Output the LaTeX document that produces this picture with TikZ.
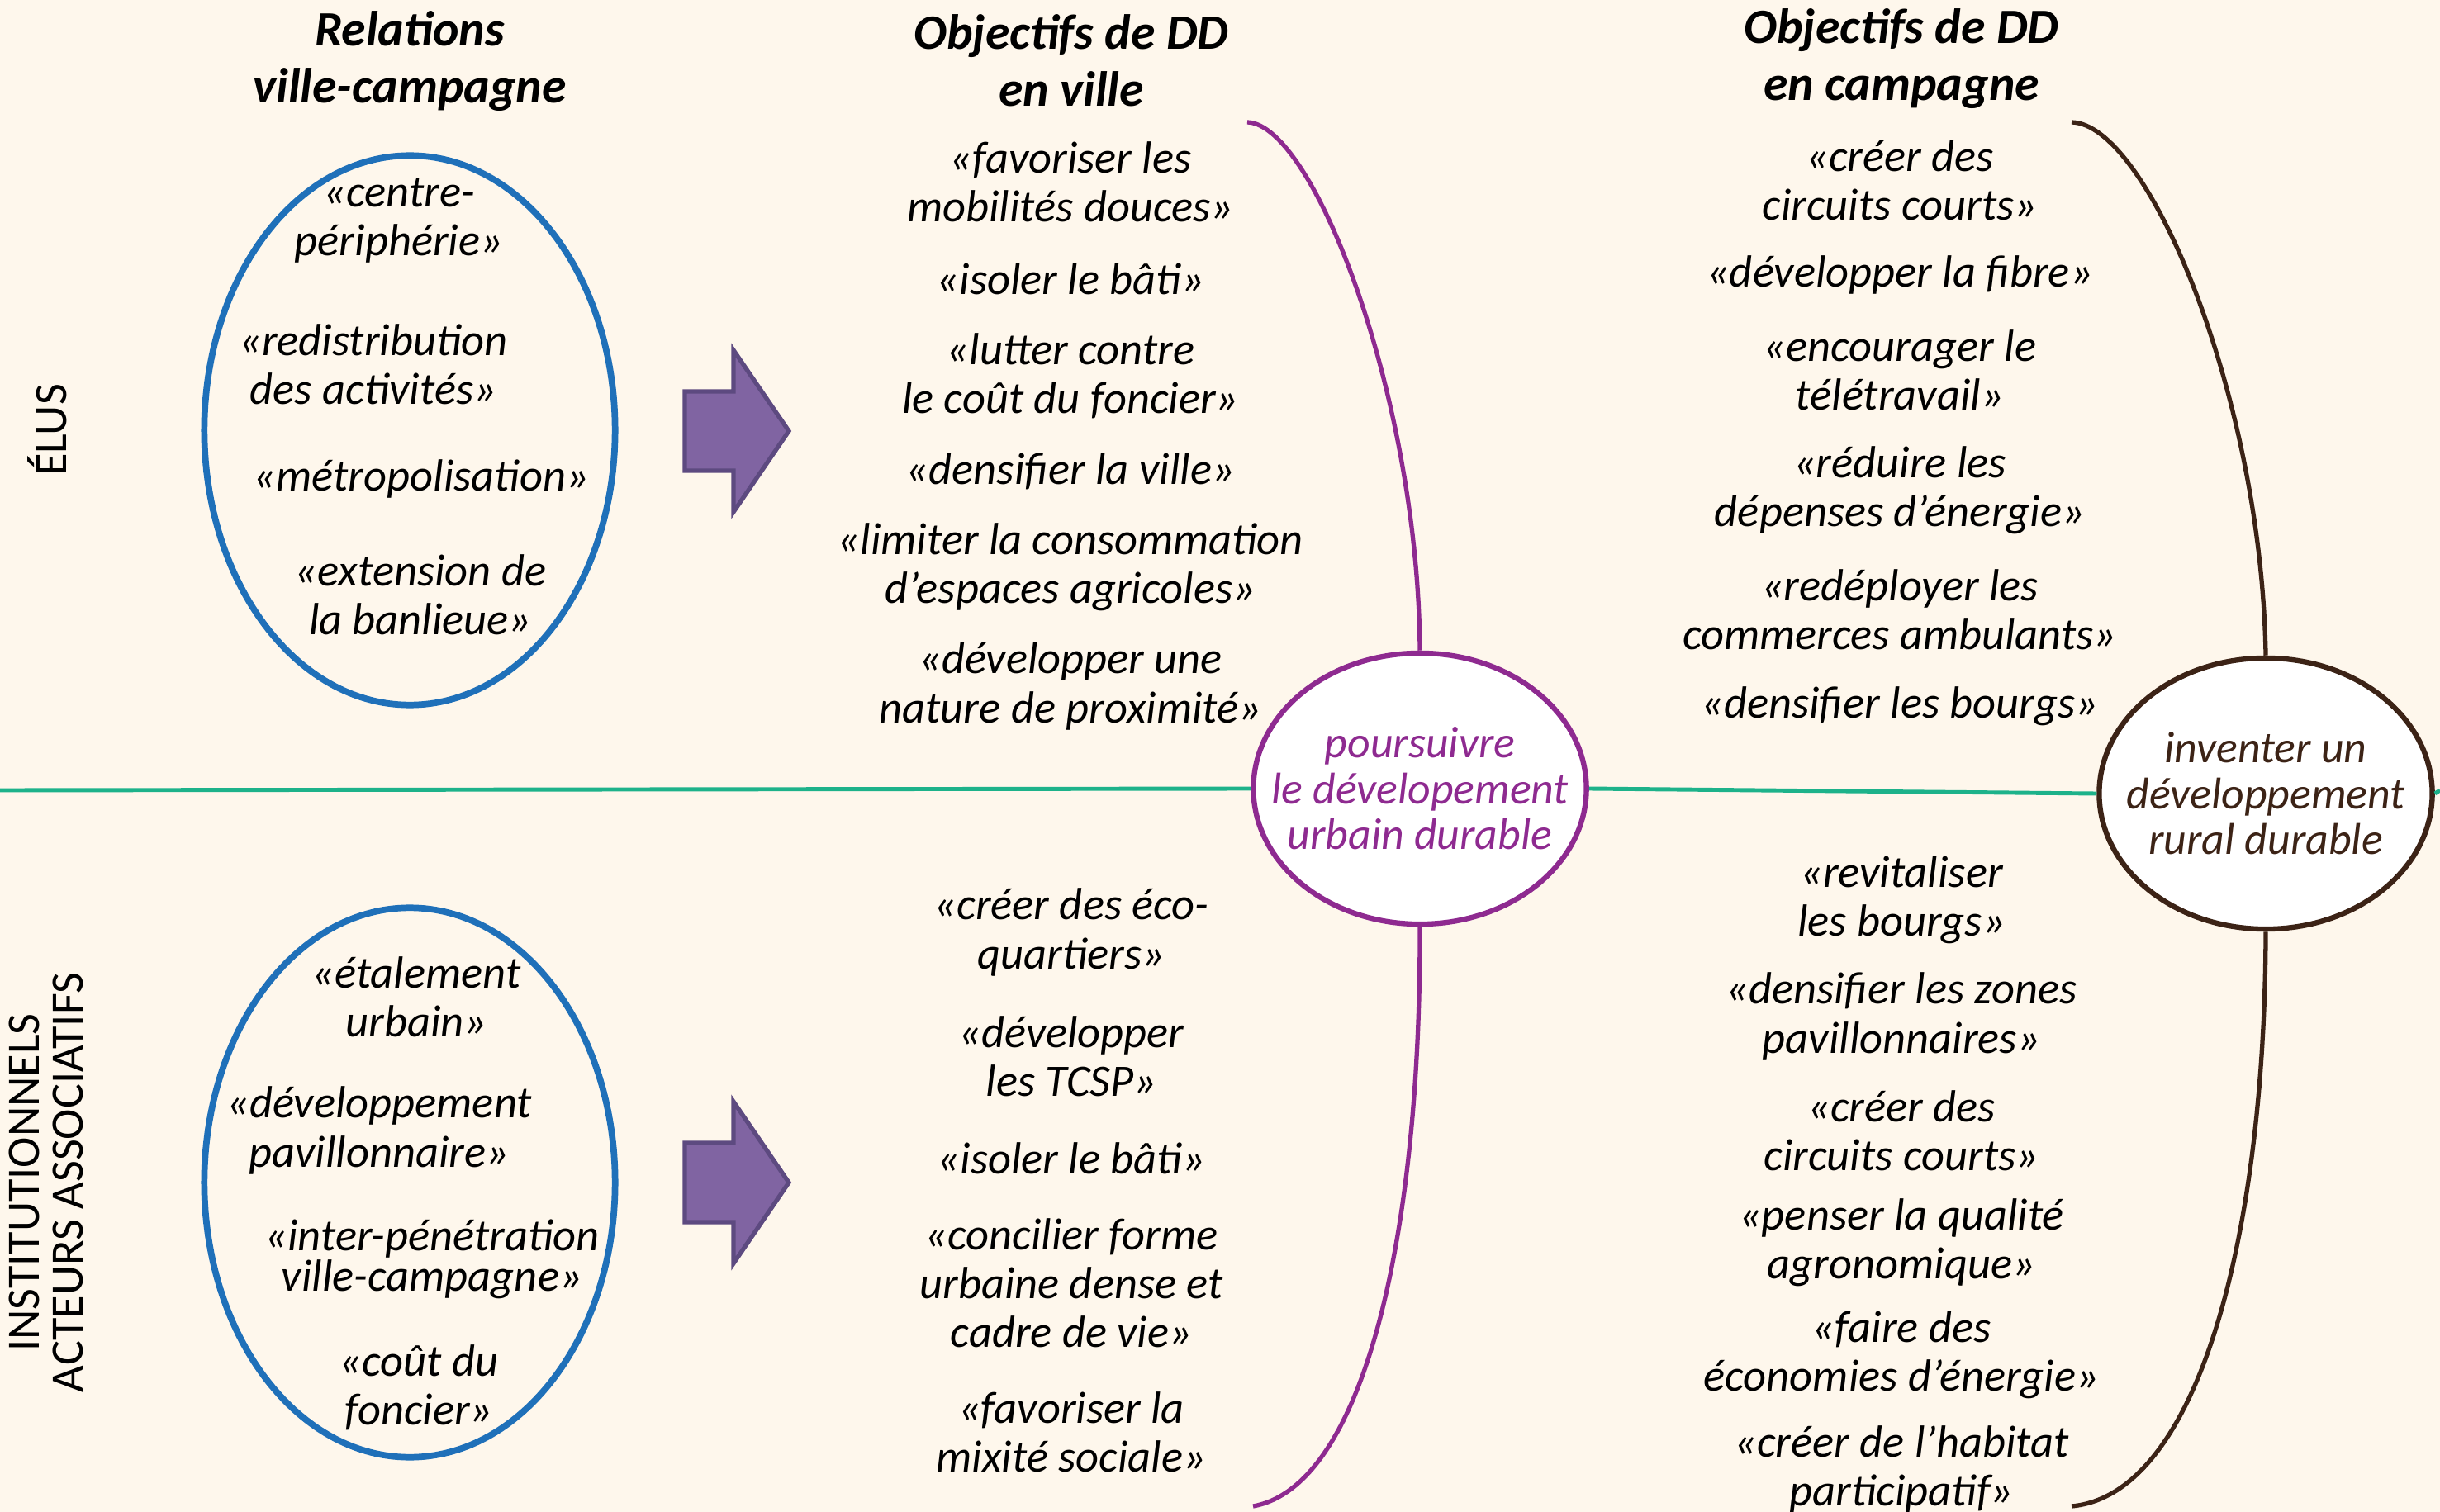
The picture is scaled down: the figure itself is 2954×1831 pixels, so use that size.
\documentclass[tikz,border=0pt]{standalone}
\usepackage{fontspec}
\setmainfont{Carlito}
\usepackage{xcolor}
\usetikzlibrary{shapes.geometric}

\definecolor{fond}{HTML}{FEF7EC}
\definecolor{bleu}{HTML}{1F70B9}
\definecolor{violet}{HTML}{8E2A90}
\definecolor{brun}{HTML}{3C2316}
\definecolor{vert}{HTML}{1DB28A}
\definecolor{flechefill}{HTML}{8064A2}
\definecolor{flechedraw}{HTML}{5D4A80}

\begin{document}
\begin{tikzpicture}[x=0.01cm, y=-0.01cm,
  titre/.style={font=\fontsize{17}{19.6}\selectfont\bfseries\itshape, align=center, inner sep=0pt},
  item/.style={font=\fontsize{15.5}{16.8}\selectfont\itshape, align=center, inner sep=0pt},
  acteur/.style={font=\fontsize{16}{15.3}\selectfont, align=center, inner sep=0pt, rotate=90},
  relation/.style={draw=bleu, line width=2.2pt, ellipse, minimum width=4.97cm, minimum height=6.65cm, inner sep=0pt},
  but/.style={ellipse, fill=white, line width=1.8pt, minimum width=4.03cm, minimum height=3.28cm, inner sep=0pt},
  buttext/.style={font=\fontsize{15.3}{15.8}\selectfont\itshape, align=center, inner sep=0pt},
  fleche/.style={fill=flechefill, draw=flechedraw, line width=1.5pt, line join=miter}]

% fond
\fill[fond] (0,0) rectangle (2954,1831);
\useasboundingbox (0,0) rectangle (2954,1831);

% ligne verte et ellipses des objectifs
\coordinate (G0) at (0,957);
\coordinate (G1) at (2954,957);
\node[but, draw=violet] (U) at (1719,955) {};
\node[but, draw=brun] (Ru) at (2743,961) {};
\draw[vert, line width=1.4pt] (G0) -- (U.west);
\draw[vert, line width=1.4pt] (U.east) -- (Ru.west);
\draw[vert, line width=1.4pt] (Ru.east) -- (G1);
\node[buttext, text=violet] (Ut) at (U) {poursuivre\\le dévelopement\\urbain durable};
\node[buttext, text=brun] (Rt) at (Ru) {inventer un\\développement\\rural durable};

% accolades
\coordinate (P0) at (1510,148);
\coordinate (P1) at (1517,1824);
\coordinate (Q0) at (2508,148);
\coordinate (Q1) at (2508,1824);
\draw[violet, line width=1.5pt] (P0) .. controls (1590,150) and (1717,480) .. (U.north);
\draw[violet, line width=1.5pt] (U.south) .. controls (1720,1500) and (1650,1800) .. (P1);
\draw[brun, line width=1.5pt] (Q0) .. controls (2600,150) and (2738,480) .. (Ru.north);
\draw[brun, line width=1.5pt] (Ru.south) .. controls (2742,1500) and (2660,1810) .. (Q1);

% titres
\node[titre] (T1) at (496,74) {Relations\\ville-campagne};
\node[titre] (T2) at (1297,73) {Objectifs de DD\\en ville};
\node[titre] (T3) at (2302,71) {Objectifs de DD\\en campagne};

% acteurs
\node[acteur] (L1) at (57,521) {ÉLUS};
\node[acteur] (L2) at (56,1432) {INSTITUTIONNELS\\ACTEURS ASSOCIATIFS};

% relations ville-campagne, elus
\node[relation] (E1) at (496,521) {};
\node[item] (R1) at (483,267) {«centre-\\périphérie»};
\node[item] (R2) at (452,441) {«redistribution\\des activités»};
\node[item] (R3) at (510,580) {«métropolisation»};
\node[item] (R4) at (509,720) {«extension de\\la banlieue»};

% relations ville-campagne, institutionnels
\node[relation] (E2) at (496,1432) {};
\node[item] (S1) at (504,1207) {«étalement\\urbain»};
\node[item] (S2) at (459,1369) {«développement\\pavillonnaire»};
\node[item, font=\fontsize{15.5}{14}\selectfont\itshape] (S3) at (523,1525) {«inter-pénétration\\ville-campagne»};
\node[item] (S4) at (507,1680) {«coût du\\foncier»};

% fleches
\draw[fleche] (829,474) -- (888,474) -- (888,424) -- (955,522) -- (888,620) -- (888,570) -- (829,570) -- cycle;
\draw[fleche] (829,1384) -- (888,1384) -- (888,1334) -- (955,1432) -- (888,1530) -- (888,1480) -- (829,1480) -- cycle;

% objectifs en ville
\node[item] (V1) at (1296,220) {«favoriser les\\mobilités douces»};
\node[item] (V2) at (1296,338) {«isoler le bâti»};
\node[item] (V3) at (1296,455) {«lutter contre\\le coût du foncier»};
\node[item] (V4) at (1296,571) {«densifier la ville»};
\node[item] (V5) at (1296,687) {«limiter la consommation\\d’espaces agricoles»};
\node[item] (V6) at (1296,831) {«développer une\\nature de proximité»};

\node[item] (W1) at (1297,1129) {«créer des éco-\\quartiers»};
\node[item] (W2) at (1297,1279) {«développer\\les TCSP»};
\node[item] (W3) at (1297,1403) {«isoler le bâti»};
\node[item] (W4) at (1297,1554) {«concilier forme\\urbaine dense et\\cadre de vie»};
\node[item] (W5) at (1297,1734) {«favoriser la\\mixité sociale»};

% objectifs en campagne
\node[item] (C1) at (2300,218) {«créer des\\circuits courts»};
\node[item] (C2) at (2300,333) {«développer la fibre»};
\node[item] (C3) at (2300,448) {«encourager le\\télétravail»};
\node[item] (C4) at (2300,594) {«réduire les\\dépenses d’énergie»};
\node[item] (C5) at (2300,738) {«redéployer les\\commerces ambulants»};
\node[item] (C6) at (2300,855) {«densifier les bourgs»};

\node[item] (D1) at (2302,1090) {«revitaliser\\les bourgs»};
\node[item] (D2) at (2302,1231) {«densifier les zones\\pavillonnaires»};
\node[item] (D3) at (2302,1369) {«créer des\\circuits courts»};
\node[item] (D4) at (2302,1505) {«penser la qualité\\agronomique»};
\node[item] (D5) at (2302,1641) {«faire des\\économies d’énergie»};
\node[item] (D6) at (2302,1779) {«créer de l’habitat\\participatif»};
\end{tikzpicture}
\end{document}
